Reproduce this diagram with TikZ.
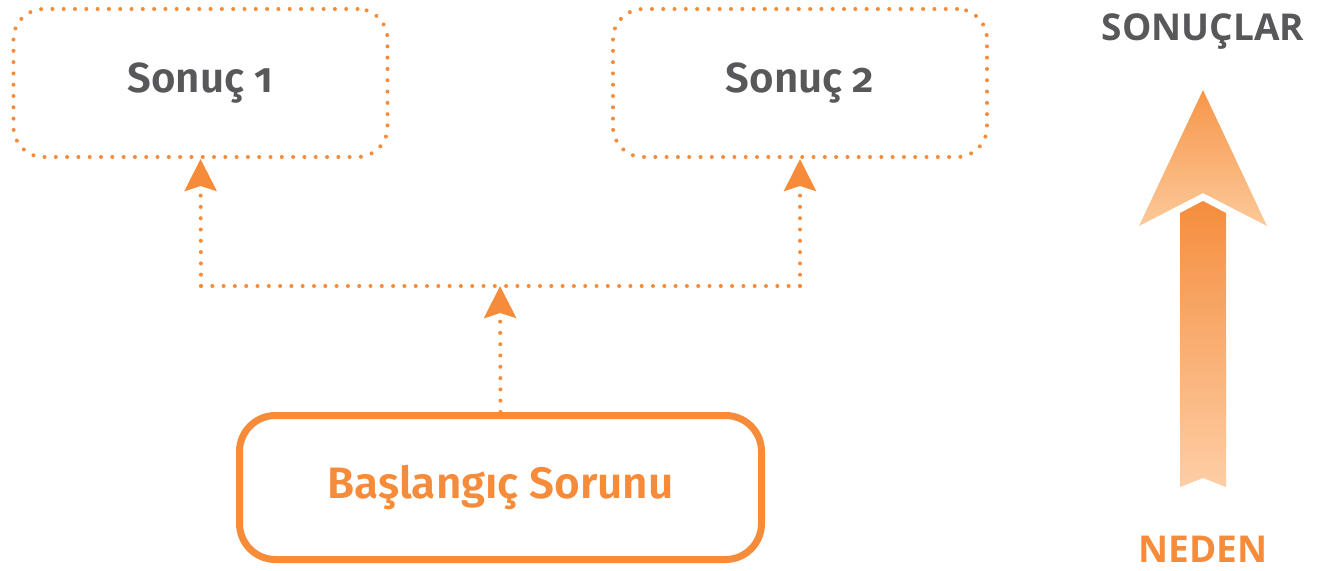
\documentclass[tikz,border=0pt]{standalone}
\usepackage{fontspec}
\setmainfont{Fira Sans}[BoldFont={Fira Sans SemiBold}]
\newfontfamily\capsfont{Open Sans}
\usetikzlibrary{arrows.meta}
\definecolor{myorange}{HTML}{F68B3A}
\definecolor{mygray}{HTML}{58585A}
\definecolor{headtop}{HTML}{F7964A}
\definecolor{headbot}{HTML}{FCC999}
\definecolor{shafttop}{HTML}{F58D3D}
\definecolor{shaftbot}{HTML}{FECEA5}
\tikzset{
  dotline/.style={draw=myorange, line width=4pt, line cap=round, dash pattern=on 0pt off 11.3pt},
  resultbox/.style={dotline, rounded corners=30pt, minimum width=374pt, minimum height=148pt,
    font=\bfseries\fontsize{42}{48}\selectfont\addfontfeatures{Numbers=OldStyle}, text=mygray},
  startbox/.style={draw=myorange, line width=7pt, rounded corners=36pt, minimum width=522pt, minimum height=144pt,
    font=\bfseries\fontsize{44}{50}\selectfont, text=myorange},
  tipped/.style={-{Stealth[length=32pt,width=32pt,inset=5pt,fill=myorange]}},
  sidelabel/.style={font=\capsfont\bfseries\fontsize{37}{42}\selectfont}
}
\begin{document}
\begin{tikzpicture}[x=1pt,y=-1pt]
\useasboundingbox (0,0) rectangle (1319,570);
\node[resultbox] (s1) at (200.5,83) {Sonuç 1};
\node[resultbox] (s2) at (800,83) {Sonuç 2};
\node[startbox] (st) at (500.5,487.5) {Başlangıç Sorunu};
\coordinate (j1) at (201,286);
\coordinate (j2) at (800,286);
\coordinate (jm) at (500,286);
\draw[dotline] (j1) -- (j2);
\draw[dotline, tipped] (j1) -- (s1.south);
\draw[dotline, tipped] (j2) -- (s2.south);
\draw[dotline, tipped] (st.north) -- (jm);
% big arrow
\shade[top color=headtop, bottom color=headbot] (1203,90) -- (1267,226) -- (1203,193) -- (1139,226) -- cycle;
\shade[top color=shafttop, bottom color=shaftbot] (1203,201) -- (1226,213) -- (1226,487) -- (1203,478) -- (1180,487) -- (1180,213) -- cycle;
\node[sidelabel, text=mygray] (top) at (1203,32) {SONUÇLAR};
\node[sidelabel, text=myorange] (bot) at (1203,549) {NEDEN};
\end{tikzpicture}
\end{document}
